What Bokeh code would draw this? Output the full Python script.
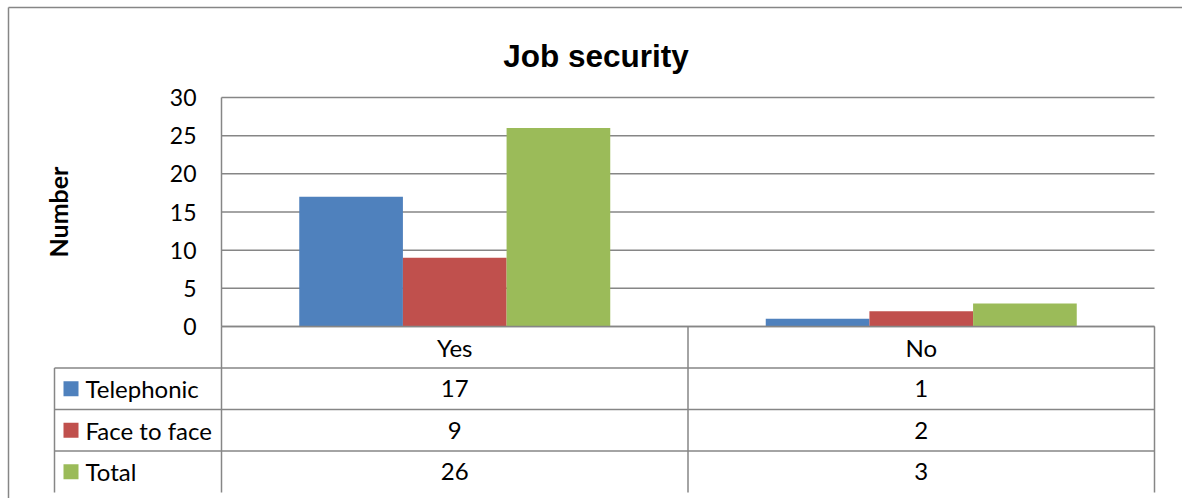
from bokeh.plotting import figure
from bokeh.models import Range1d, FixedTicker, LinearAxis, Label
from bokeh.embed import file_html
from bokeh.resources import INLINE
from bokeh.core.properties import value

# ---- data ----
categories = ["Yes", "No"]
series_names = ["Telephonic", "Face to face", "Total"]
telephonic = [17, 1]
face_to_face = [9, 2]
total = [26, 3]
y_ticks = [0, 5, 10, 15, 20, 25, 30]
title_text = "Job security"
y_label = "Number"

colors = ["#4F81BD", "#C0504D", "#9BBB59"]
grid_color = "#868686"
FONT = "Lato"
series_values = [telephonic, face_to_face, total]
n_cat = len(categories)
n_ser = len(series_names)

# ---- layout constants (pixels) ----
W, H = 1182, 498
plot_left, plot_right = 221, 1154          # category area
plot_top, plot_bottom = 97, 326           # value 30 .. value 0
row_px = 41.5                              # data-table row height
px_per_cat = (plot_right - plot_left) / n_cat
px_per_val = (plot_bottom - plot_top) / y_ticks[-1]

x_start = (0 - plot_left) / px_per_cat
x_end = (W - plot_left) / px_per_cat
y_start = (plot_bottom - H) / px_per_val
y_end = (plot_bottom - 0) / px_per_val

p = figure(width=W, height=H, x_range=Range1d(x_start, x_end), y_range=Range1d(y_start, y_end),
           output_backend="svg", toolbar_location=None, title=None,
           x_axis_location=None, y_axis_location=None,
           min_border_left=0, min_border_right=0, min_border_top=0, min_border_bottom=0)
p.outline_line_color = None
p.xgrid.grid_line_color = None
p.ygrid.grid_line_color = None

# table range (rows, downward), shares the frame
p.extra_y_ranges = {"table": Range1d(start=(H - plot_bottom) / row_px, end=(0 - plot_bottom) / row_px)}

# outer chart border (left + top)
bx = (8 - plot_left) / px_per_cat
by = (plot_bottom - 7) / px_per_val
p.segment(x0=[bx, bx], y0=[by, by], x1=[bx, x_end + 0.05], y1=[y_start - 1, by],
          line_color=grid_color, line_width=1.5)

# horizontal gridlines
p.segment(x0=[0] * len(y_ticks), y0=y_ticks, x1=[n_cat] * len(y_ticks), y1=y_ticks,
          line_color=grid_color, line_width=1.5)

# y axis at category-area left edge
ax = LinearAxis(fixed_location=0, bounds=(y_ticks[0], y_ticks[-1]),
                ticker=FixedTicker(ticks=y_ticks))
ax.axis_line_color = grid_color
ax.axis_line_width = 1.5
ax.major_tick_line_color = None
ax.minor_tick_line_color = None
ax.major_tick_out = 0
ax.major_tick_in = 0
ax.major_label_standoff = 25
ax.major_label_text_font = FONT
ax.major_label_text_font_size = "23px"
ax.major_label_text_color = "black"
ax.axis_label = y_label
ax.axis_label_text_font = FONT
ax.axis_label_text_font_style = "bold"
ax.axis_label_text_font_size = "25px"
ax.axis_label_text_color = "black"
ax.axis_label_standoff = 94
p.add_layout(ax, "left")

# bars
bw = 1 / (n_ser + 1.5)
for s, (vals, c) in enumerate(zip(series_values, colors)):
    off = (s - (n_ser - 1) / 2) * bw
    p.vbar(x=[i + 0.5 + off for i in range(n_cat)], top=vals, bottom=0, width=bw,
           fill_color=c, line_color=None)

# title
p.add_layout(Label(x=(595.5 - plot_left) / px_per_cat, y=(plot_bottom - 55) / px_per_val,
                   text=title_text, text_align="center", text_baseline="alphabetic",
                   text_font="Liberation Sans", text_font_style="bold",
                   text_font_size="31.5px", text_color="black"))

# ---- data table ----
legend_left = (54 - plot_left) / px_per_cat
n_rows = n_ser + 1
hy = list(range(n_rows + 1))
hx0 = [0] + [legend_left] * n_ser
p.segment(x0=hx0, y0=hy, x1=[n_cat] * len(hy), y1=hy, y_range_name="table",
          line_color=grid_color, line_width=1.5)
vx = list(range(n_cat + 1)) + [legend_left]
vy0 = [0] * (n_cat + 1) + [1]
p.segment(x0=vx, y0=vy0, x1=vx, y1=[n_rows] * len(vx), y_range_name="table",
          line_color=grid_color, line_width=1.5)

p.text(x=[i + 0.5 for i in range(n_cat)], y=[0.5] * n_cat, text=categories,
       y_range_name="table", text_align="center", text_baseline="middle",
       text_font=value(FONT), text_font_size="24px", text_color="black")

vx_, vy_, vt_ = [], [], []
for r, vals in enumerate(series_values):
    for i, v in enumerate(vals):
        vx_.append(i + 0.5)
        vy_.append(r + 1.5)
        vt_.append(str(v))
p.text(x=vx_, y=vy_, text=vt_, y_range_name="table", text_align="center",
       text_baseline="middle", text_font=value(FONT), text_font_size="24px",
       text_color="black")

sq_x = (70.5 - plot_left) / px_per_cat
txt_x = (85 - plot_left) / px_per_cat
p.scatter(x=[sq_x] * n_ser, y=[r + 1.5 for r in range(n_ser)], y_range_name="table",
          marker="square", size=15, fill_color=colors, line_color=None)
p.text(x=[txt_x] * n_ser, y=[r + 1.5 for r in range(n_ser)], text=series_names,
       y_range_name="table", text_align="left", text_baseline="middle",
       text_font=value(FONT), text_font_size="24px", text_color="black")

open("out.html", "w").write(file_html(p, INLINE))
